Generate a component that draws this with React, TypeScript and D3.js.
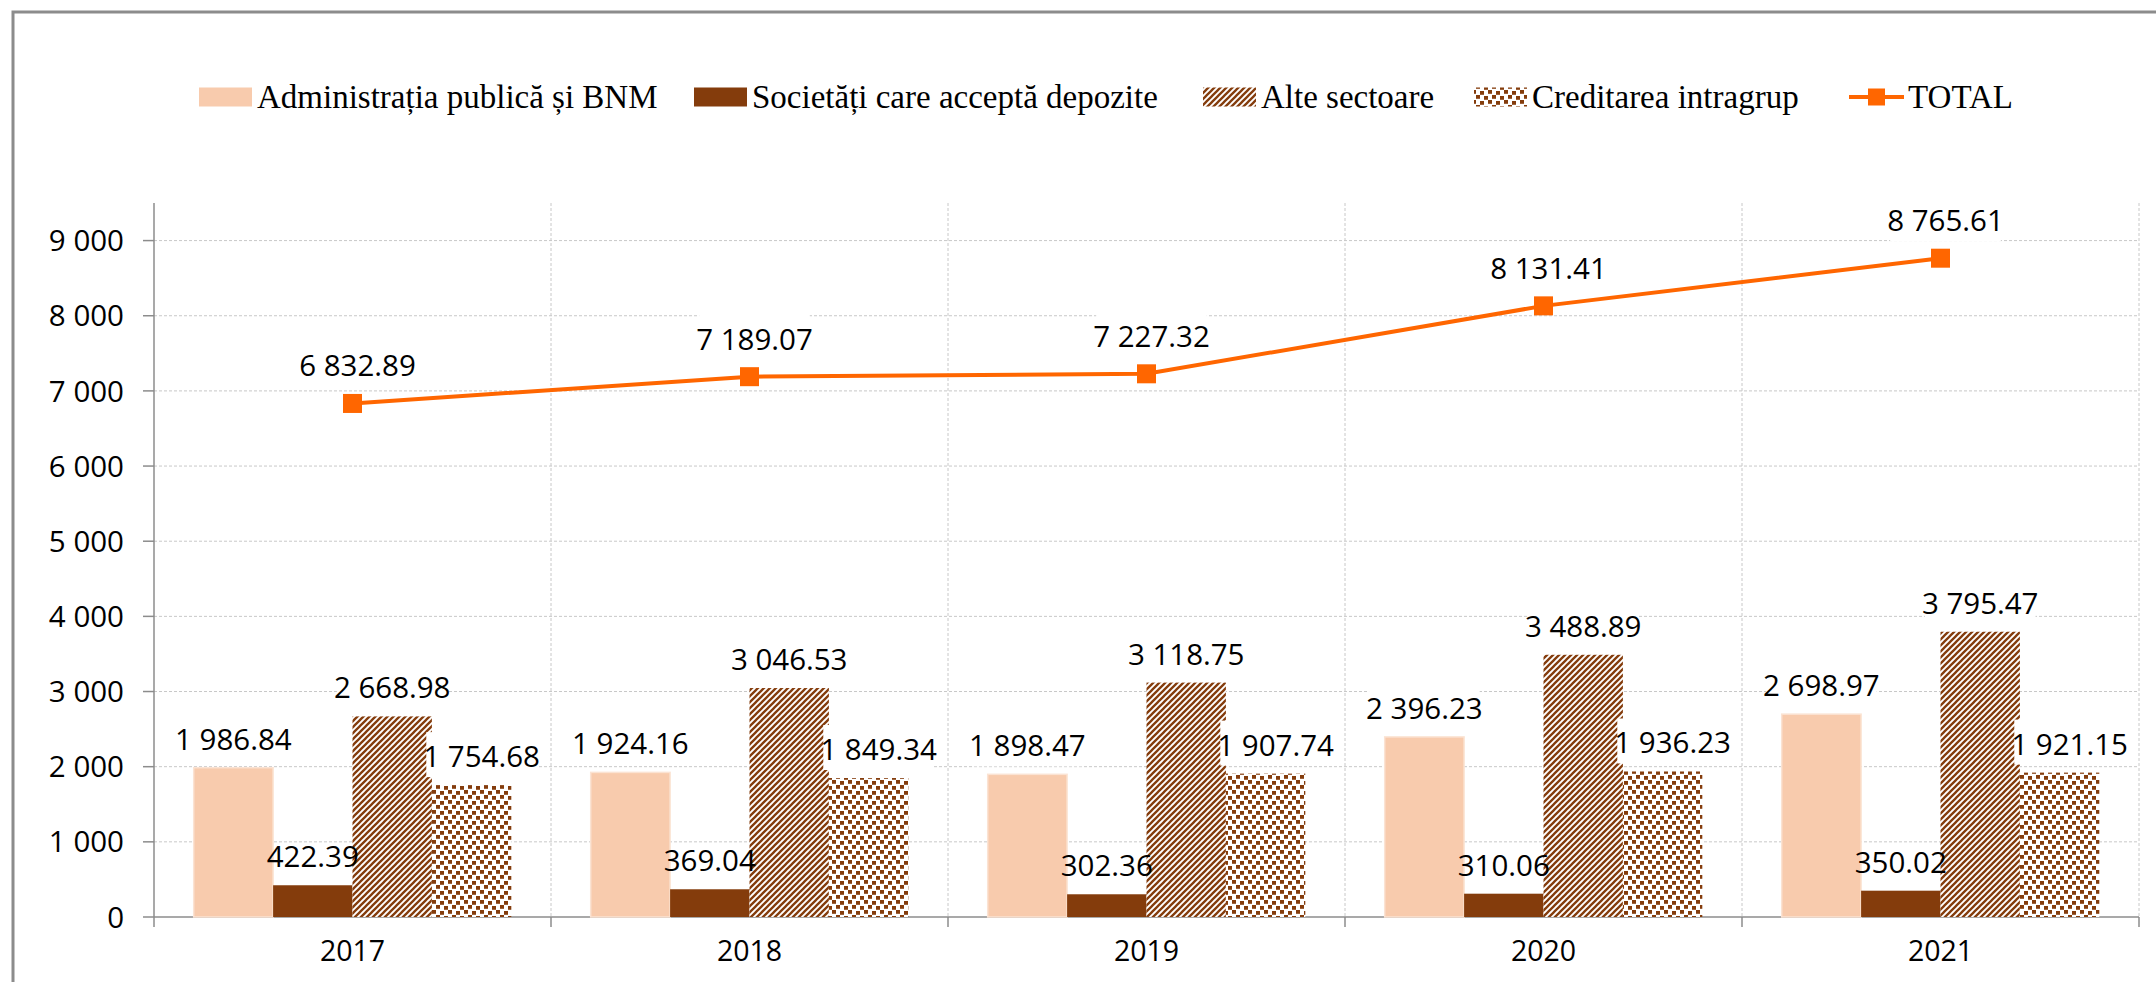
import * as d3 from "d3";
import React, { useEffect, useRef } from "react";

// date
const years = ["2017", "2018", "2019", "2020", "2021"];
const seriesNames = [
  "Administrația publică și BNM",
  "Societăți care acceptă depozite",
  "Alte sectoare",
  "Creditarea intragrup",
];
const adminPublica = [1986.84, 1924.16, 1898.47, 2396.23, 2698.97];
const societati = [422.39, 369.04, 302.36, 310.06, 350.02];
const alteSectoare = [2668.98, 3046.53, 3118.75, 3488.89, 3795.47];
const creditarea = [1754.68, 1849.34, 1907.74, 1936.23, 1921.15];
const totalName = "TOTAL";
const total = [6832.89, 7189.07, 7227.32, 8131.41, 8765.61];
const yTicks = [0, 1000, 2000, 3000, 4000, 5000, 6000, 7000, 8000, 9000];

const W = 2156;
const H = 982;

const App = () => {
  const svgRef = useRef<SVGSVGElement>(null);

  useEffect(() => {
    const svg = d3.select(svgRef.current);
    svg.selectAll("*").remove();

    const numFont = "'Open Sans', sans-serif";
    const legendFont = "'Liberation Serif', serif";
    const fs = 29.5;

    const loc = d3.formatLocale({ decimal: ".", thousands: " ", grouping: [3], currency: ["", ""] });
    const fmtLabel = loc.format(",.2f");
    const fmtTick = loc.format(",d");

    const left = 154, right = 2139, top = 203, bottom = 917;

    const x = d3.scaleBand().domain(years).range([left, right]).padding(0);
    const inner = d3.scaleBand().domain(seriesNames).range([0, x.bandwidth()]).paddingInner(0).paddingOuter(0.5);
    const y = d3.scaleLinear().domain([0, 9500]).range([bottom, top]);

    const values = [adminPublica, societati, alteSectoare, creditarea];
    const fills = ["#F8CBAD", "#843C0C", "url(#hatch)", "url(#confetti)"];
    const labelShift = [0, 0, 0, 10];
    const labelBg = [true, false, true, true];

    // patterns
    const defs = svg.append("defs");
    const hatch = defs.append("pattern").attr("id", "hatch")
      .attr("patternUnits", "userSpaceOnUse").attr("width", 6).attr("height", 6);
    hatch.append("rect").attr("width", 6).attr("height", 6).attr("fill", "#fff");
    hatch.append("path")
      .attr("d", "M0,6 L6,0 M-1.5,1.5 L1.5,-1.5 M4.5,7.5 L7.5,4.5")
      .attr("stroke", "#843C0C").attr("stroke-width", 2.3);

    const conf = defs.append("pattern").attr("id", "confetti")
      .attr("patternUnits", "userSpaceOnUse").attr("width", 16).attr("height", 10);
    conf.append("rect").attr("width", 16).attr("height", 10).attr("fill", "#fff");
    [[0, 0], [8, 1], [4, 5], [12, 6]].forEach(([px, py]) => {
      conf.append("rect").attr("x", px).attr("y", py).attr("width", 4).attr("height", 3.8).attr("fill", "#843C0C");
    });

    // cadru
    svg.append("rect").attr("x", 13).attr("y", 12).attr("width", W).attr("height", H)
      .attr("fill", "#fff").attr("stroke", "#8c8c8c").attr("stroke-width", 3);

    // grila
    svg.append("g").selectAll("line").data(yTicks.filter(d => d > 0)).join("line")
      .attr("x1", left).attr("x2", right)
      .attr("y1", d => y(d)).attr("y2", d => y(d))
      .attr("stroke", "#c8c8c8").attr("stroke-width", 1).attr("stroke-dasharray", "3,2");

    const bounds = years.map(yr => (x(yr) as number) + x.bandwidth());
    svg.append("g").selectAll("line").data(bounds).join("line")
      .attr("x1", d => d).attr("x2", d => d)
      .attr("y1", top).attr("y2", bottom)
      .attr("stroke", "#c8c8c8").attr("stroke-width", 1).attr("stroke-dasharray", "3,2");

    // axe
    const axisColor = "#8c8c8c";
    svg.append("line").attr("x1", left).attr("x2", left).attr("y1", top).attr("y2", bottom)
      .attr("stroke", axisColor).attr("stroke-width", 1.5);
    svg.append("g").selectAll("line").data(yTicks).join("line")
      .attr("x1", left - 11).attr("x2", left)
      .attr("y1", d => y(d)).attr("y2", d => y(d))
      .attr("stroke", axisColor).attr("stroke-width", 1.5);
    svg.append("g").selectAll("text").data(yTicks).join("text")
      .attr("x", 124).attr("y", d => y(d)).attr("dy", "0.36em")
      .attr("text-anchor", "end").attr("font-family", numFont).attr("font-size", fs)
      .attr("fill", "#000").text(d => fmtTick(d));

    svg.append("line").attr("x1", left).attr("x2", right).attr("y1", bottom).attr("y2", bottom)
      .attr("stroke", axisColor).attr("stroke-width", 1.5);
    svg.append("g").selectAll("line").data([left, ...bounds]).join("line")
      .attr("x1", d => d).attr("x2", d => d).attr("y1", bottom).attr("y2", bottom + 10)
      .attr("stroke", axisColor).attr("stroke-width", 1.5);
    svg.append("g").selectAll("text").data(years).join("text")
      .attr("x", d => (x(d) as number) + x.bandwidth() / 2).attr("y", 961)
      .attr("text-anchor", "middle").attr("font-family", numFont).attr("font-size", fs - 1)
      .attr("fill", "#000").text(d => d);

    // etichete: fundal alb in ordinea seriilor, textul deasupra tuturor
    const textLayer: { cx: number; baseline: number; txt: string }[] = [];
    const addLabel = (g, cx: number, baseline: number, txt: string, bg = true) => {
      if (bg) {
        const t = g.append("text").attr("x", cx).attr("y", baseline)
          .attr("text-anchor", "middle").attr("font-family", numFont).attr("font-size", fs)
          .text(txt);
        const bb = (t.node() as SVGTextElement).getBBox();
        t.remove();
        g.append("rect")
          .attr("x", bb.x + 3).attr("y", bb.y - 3).attr("width", bb.width - 6).attr("height", bb.height + 4)
          .attr("fill", "#fff");
      }
      textLayer.push({ cx, baseline, txt });
    };
    const flushText = (g) => {
      textLayer.splice(0).forEach(d => {
        g.append("text").attr("x", d.cx).attr("y", d.baseline)
          .attr("text-anchor", "middle").attr("font-family", numFont).attr("font-size", fs)
          .attr("fill", "#000").text(d.txt);
      });
    };

    // bare + fundal etichete, serie cu serie
    values.forEach((vals, si) => {
      const g = svg.append("g");
      g.selectAll("rect.bar").data(vals).join("rect")
        .attr("class", "bar")
        .attr("x", (d, i) => (x(years[i]) as number) + (inner(seriesNames[si]) as number))
        .attr("width", inner.bandwidth())
        .attr("y", d => y(d)).attr("height", d => y(0) - y(d))
        .attr("fill", fills[si])
        .attr("stroke", si === 0 ? "#FBE3D3" : "none").attr("stroke-width", 1.5);
      const lg = svg.append("g");
      vals.forEach((v, i) => {
        const cx = (x(years[i]) as number) + (inner(seriesNames[si]) as number) + inner.bandwidth() / 2 + labelShift[si];
        addLabel(lg, cx, y(v) - 18, fmtLabel(v), labelBg[si]);
      });
    });
    flushText(svg.append("g"));

    // linia TOTAL
    const cxOf = (i: number) => (x(years[i]) as number) + x.bandwidth() / 2;
    const line = d3.line<number>().x((d, i) => cxOf(i)).y(d => y(d));
    svg.append("path").datum(total).attr("d", line)
      .attr("fill", "none").attr("stroke", "#FF6600").attr("stroke-width", 4);
    svg.append("g").selectAll("rect").data(total).join("rect")
      .attr("x", (d, i) => cxOf(i) - 9.5).attr("y", d => y(d) - 9.5)
      .attr("width", 19).attr("height", 19).attr("fill", "#FF6600");

    const totLabels = svg.append("g");
    total.forEach((v, i) => addLabel(totLabels, cxOf(i) + 5, y(v) - 27, fmtLabel(v)));
    flushText(totLabels);

    // legenda
    const legX = [199, 694, 1203, 1474, 1849];
    const legY = 97;
    const leg = svg.append("g");
    seriesNames.forEach((name, si) => {
      leg.append("rect").attr("x", legX[si]).attr("y", legY - 9.5).attr("width", 53).attr("height", 19)
        .attr("fill", fills[si]);
      leg.append("text").attr("x", legX[si] + 58).attr("y", legY).attr("dy", "0.33em")
        .attr("font-family", legendFont).attr("font-size", 33).attr("fill", "#000").text(name);
    });
    leg.append("line").attr("x1", legX[4]).attr("x2", legX[4] + 55).attr("y1", legY).attr("y2", legY)
      .attr("stroke", "#FF6600").attr("stroke-width", 4);
    leg.append("rect").attr("x", legX[4] + 27.5 - 8.5).attr("y", legY - 8.5).attr("width", 17).attr("height", 17)
      .attr("fill", "#FF6600");
    leg.append("text").attr("x", legX[4] + 59).attr("y", legY).attr("dy", "0.33em")
      .attr("font-family", legendFont).attr("font-size", 33).attr("fill", "#000").text(totalName);
  }, []);

  return (
    <svg ref={svgRef} width={W} height={H}
      style={{ position: "absolute", left: 0, top: 0, background: "#fff" }} />
  );
};

export default App;
